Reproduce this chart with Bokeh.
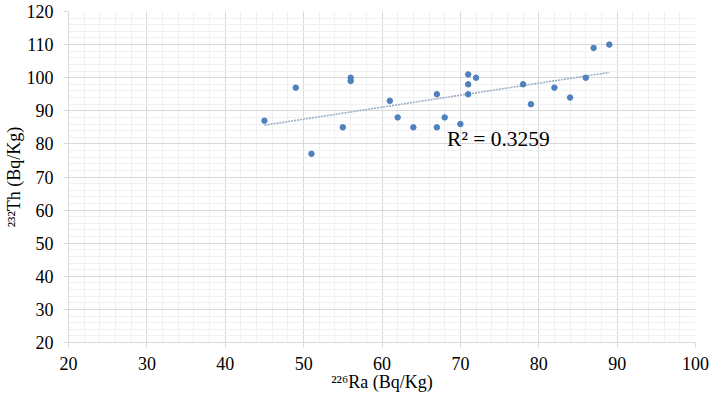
import numpy as np
from bokeh.plotting import figure
from bokeh.models import Range1d, Label, SingleIntervalTicker
from bokeh.embed import file_html
from bokeh.resources import INLINE

ra226 = [45, 49, 51, 55, 56, 56, 61, 62, 64, 67, 67, 68, 70, 71, 71, 71, 72, 78, 79, 82, 84, 86, 87, 89]
th232 = [87, 97, 77, 85, 100, 99, 93, 88, 85, 95, 85, 88, 86, 101, 98, 95, 100, 98, 92, 97, 94, 100, 109, 110]
r2_text = "R² = 0.3259"

FONT = "Liberation Serif"

p = figure(width=709, height=398, output_backend="svg", toolbar_location=None,
           x_range=Range1d(20, 100), y_range=Range1d(20, 120),
           min_border_left=64, min_border_right=14, min_border_top=11, min_border_bottom=56)
p.outline_line_color = None
p.background_fill_color = "white"

for ax in (p.xaxis[0], p.yaxis[0]):
    ax.ticker = SingleIntervalTicker(interval=10, num_minor_ticks=5)
    ax.major_label_text_font = FONT
    ax.major_label_text_font_size = "18px"
    ax.major_label_text_color = "black"
    ax.axis_label_text_font = FONT
    ax.axis_label_text_font_size = "18px"
    ax.axis_label_text_font_style = "normal"
    ax.axis_label_text_color = "black"
    ax.axis_line_color = "#d9d9d9"
    ax.major_tick_line_color = "#d9d9d9"
    ax.major_tick_out = 5
    ax.major_tick_in = 0
    ax.minor_tick_line_color = None

p.xaxis[0].axis_label = "²²⁶Ra (Bq/Kg)"
p.yaxis[0].axis_label = "²³²Th (Bq/Kg)"
p.xaxis[0].major_label_standoff = 9
p.yaxis[0].major_label_standoff = 10
p.xaxis[0].axis_label_standoff = -1
p.yaxis[0].axis_label_standoff = 0

for g in (p.xgrid[0], p.ygrid[0]):
    g.grid_line_color = "#d9d9d9"
    g.grid_line_width = 1
    g.minor_grid_line_color = "#f0f0f0"
    g.minor_grid_line_width = 1

# linear trendline from data
xs = np.array(ra226, dtype=float)
ys = np.array(th232, dtype=float)
m, b = np.polyfit(xs, ys, 1)
tx = [xs.min(), xs.max()]
ty = [m * v + b for v in tx]
p.line(tx, ty, line_color="#9aaec6", line_width=1.6, line_dash="2 1")

p.scatter(ra226, th232, size=5.5, fill_color="#4f81bd", line_color="#4f81bd")

p.add_layout(Label(x=68.3, y=85.2, text=r2_text, text_font=FONT, text_font_size="21.5px",
                   text_color="black", text_baseline="top", text_align="left"))

open("out.html", "w").write(file_html(p, INLINE))
